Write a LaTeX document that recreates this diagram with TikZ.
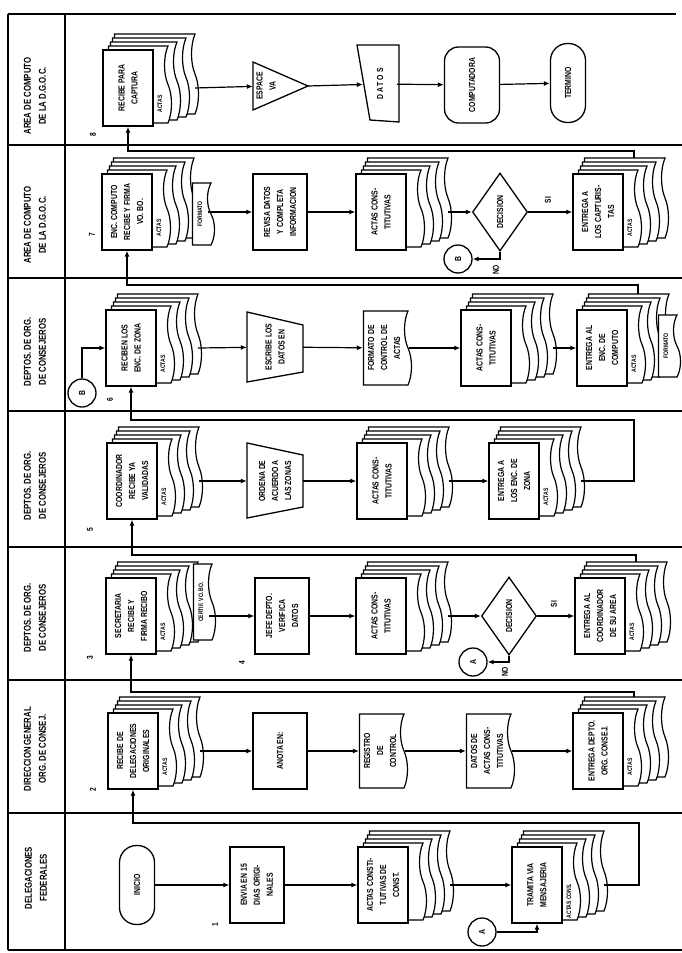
\documentclass[tikz,border=0pt]{standalone}
\usepackage{fontspec}
\setmainfont[FakeStretch=0.78]{Liberation Sans}
\usetikzlibrary{shapes.symbols,shapes.geometric,calc,arrows.meta}

% stack of documents: name, x, y, front text, sheet text
\newcommand{\docstack}[5]{%
  \foreach \k in {4,3,2,1}
    \node[sheet,minimum width={(76+\k)*1pt},minimum height={(56+7*\k)*1pt}]
      at ($(#2,#3)+(3+5.5*\k,-3.5*\k)$) {};
  \node[lbl] at ($(#2,#3)+(32,16)$) {#5};
  \node[front] (#1) at (#2,#3) {#4};
  \coordinate (#1r) at ($(#2,#3)+(67,0)$);
  \coordinate (#1t) at ($(#2,#3)+(36,-54)$);
}

\begin{document}
\begin{tikzpicture}[x=1pt,y=-1pt]
\tikzstyle{txt}=[rotate=90,align=center,inner sep=1pt,font=\bfseries\fontsize{8.8}{13}\selectfont]
\tikzstyle{box}=[txt,draw,line width=1.3pt,fill=white,minimum width=76pt,minimum height=54pt]
\tikzstyle{front}=[box,minimum height=50pt]
\tikzstyle{paper}=[draw,line width=1.2pt,fill=white,tape,tape bend top=none,tape bend height=7pt]
\tikzstyle{sheet}=[paper,rotate=90]
\tikzstyle{doc}=[txt,paper,minimum width=74pt,minimum height=48pt]
\tikzstyle{term}=[txt,draw,line width=1.3pt,rounded corners=17pt,minimum width=79pt,minimum height=35pt]
\tikzstyle{dec}=[txt,draw,line width=1.3pt,fill=white,diamond,minimum width=78pt,minimum height=55pt,inner sep=0pt]
\tikzstyle{con}=[txt,draw,line width=1.3pt,circle,minimum size=28pt,inner sep=0pt]
\tikzstyle{plain}=[txt]
\tikzstyle{shp}=[line width=1.3pt,fill=white]
\tikzstyle{arr}=[line width=1.2pt,-{Latex[length=6pt,width=5pt]}]
\tikzstyle{lane}=[line width=1.5pt]
\tikzstyle{lbl}=[rotate=90,inner sep=0pt,font=\bfseries\fontsize{6.5}{7}\selectfont]
\tikzstyle{num}=[rotate=90,inner sep=0pt,font=\bfseries\fontsize{8.5}{9}\selectfont]
\tikzstyle{hdr}=[rotate=90,align=center,font=\bfseries\fontsize{10}{15}\selectfont]

\useasboundingbox (0,0) rectangle (682,953);

% Lanes
\draw[lane] (8,14) -- (676,14);
\draw[lane] (8,950) -- (682,950);
\draw[lane] (8,14) -- (8,950);
\draw[lane] (65,14) -- (65,950);
\foreach \y in {145,278,411,547,680,813}
  \draw[lane] (8,\y) -- (682,\y);

\node[hdr] (h8) at (35,96) {AREA DE COMPUTO\\DE LA D.G.O.C.};
\node[hdr] (h7) at (35,225) {AREA DE COMPUTO\\DE LA D.G.O.C.};
\node[hdr] (h6) at (35,352) {DEPTOS. DE ORG.\\DE CONSEJEROS};
\node[hdr] (h5) at (35,486) {DEPTOS. DE ORG.\\DE CONSEJEROS};
\node[hdr] (h3) at (35,618) {DEPTOS. DE ORG.\\DE CONSEJEROS};
\node[hdr] (h2) at (35,749) {DIRECCION GENERAL\\ORG. DE CONSEJ.};
\node[hdr] (h1) at (36,878) {DELEGACIONES\\FEDERALES};

% Lane 8
\node[num] (n8) at (93,135) {8};
\docstack{s8}{128}{88}{RECIBE PARA\\CAPTURA}{ACTAS}
\draw[shp] (253,62) -- (308,86) -- (253,110) -- cycle;
\node[plain,minimum width=48pt,minimum height=26pt] (t8) at (266,86) {ESPACE\\VA};
\coordinate (t8a) at (308,86);
\draw[shp] (357,45) -- (399,45) -- (399,122) -- (370,120) -- cycle;
\node[plain,minimum width=77pt,minimum height=34pt] (d8) at (380,84) {D A T O S};
\node[box,rounded corners=14pt,minimum height=55pt] (c8) at (472,85) {COMPUTADORA};
\node[term] (e8) at (568,83) {TERMINO};

% Lane 7
\node[num] (n7) at (92,235) {7};
\docstack{s7}{127}{212}{ENC. COMPUTO\\RECIBE Y FIRMA\\VO. BO.}{ACTAS}
\node[doc,minimum width=62pt,minimum height=22pt,font=\bfseries\fontsize{6.5}{7}\selectfont] (f7) at (200,214) {FORMATO};
\node[box] (r7) at (280,212) {REVISA DATOS\\Y COMPLETA\\INFORMACION};
\docstack{a7}{381}{212}{ACTAS CONS-\\TITUTIVAS}{}
\node[dec] (dc7) at (500,212) {DECISION};
\docstack{s7b}{598}{212}{ENTREGA A\\LOS CAPTURIS-\\TAS}{ACTAS}
\node[con] (cB7) at (458,259) {B};
\node[num] (si7) at (548,200) {SI};
\node[num] (no7) at (496,270) {NO};

% Lane 6
\node[num] (n6) at (110,400) {6};
\node[con] (cB6) at (82,393) {B};
\docstack{s6}{131}{348}{RECIBEN LOS\\ENC. DE ZONA}{ACTAS}
\draw[shp] (247,312) -- (303,325) -- (303,372) -- (247,382) -- cycle;
\node[plain,minimum width=70pt,minimum height=56pt] (m6) at (275,347) {ESCRIBE LOS\\DATOS EN};
\node[doc] (fm6) at (384,348) {FORMATO DE\\CONTROL DE\\ACTAS};
\docstack{a6}{486}{348}{ACTAS CONS-\\TITUTIVAS}{}
\docstack{s6b}{602}{348}{ENTREGA AL\\ENC. DE\\COMPUTO}{ACTAS}
\node[doc,minimum width=62pt,minimum height=22pt,font=\bfseries\fontsize{6.5}{7}\selectfont] (f6) at (666,346) {FORMATO};

% Lane 5
\node[num] (n5) at (90,530) {5};
\docstack{s5}{132}{481}{COORDINADOR\\RECIBE YA\\VALIDADAS}{ACTAS}
\draw[shp] (247,443) -- (303,455) -- (303,507) -- (247,518) -- cycle;
\node[plain,minimum width=75pt,minimum height=56pt] (m5) at (275,481) {ORDENA DE\\ACUERDO A\\LAS ZONAS};
\docstack{a5}{382}{481}{ACTAS CONS-\\TITUTIVAS}{}
\docstack{s5b}{514}{481}{ENTREGA A\\LOS ENC. DE\\ZONA}{ACTAS}

% Lane 3
\node[num] (n3) at (90,658) {3};
\node[num] (n4) at (242,663) {4};
\docstack{s3}{131}{616}{SECRETARIA\\RECIBE Y\\FIRMA RECIBO}{ACTAS}
\node[doc,minimum width=76pt,minimum height=22pt,font=\bfseries\fontsize{6.5}{7}\selectfont] (x3) at (201,602) {CERTIF. VO. BO.};
\node[box] (r3) at (282,616) {JEFE DEPTO.\\VERIFICA\\DATOS};
\docstack{a3}{381}{616}{ACTAS CONS-\\TITUTIVAS}{}
\node[dec] (dc3) at (509,616) {DECISION};
\docstack{s3b}{600}{616}{ENTREGA AL\\COORDINADOR\\DE SU AREA}{ACTAS}
\node[con] (cA3) at (473,662) {A};
\node[num] (si3) at (554,604) {SI};
\node[num] (no3) at (505,672) {NO};

% Lane 2
\node[num] (n2) at (93,790) {2};
\docstack{s2}{133}{751}{RECIBE DE\\DELEGACIONES\\ORIGINALES}{ACTAS}
\node[box] (r2) at (280,751) {ANOTA EN:};
\node[doc] (dreg2) at (380,751) {REGISTRO\\DE\\CONTROL};
\node[doc] (dat2) at (487,751) {DATOS DE\\ACTAS CONS-\\TITUTIVAS};
\docstack{s2b}{598}{751}{ENTREGA DEPTO.\\ORG. CONSEJ.}{ACTAS}

% Lane 1
\node[num] (n1) at (215,925) {1};
\node[term] (i1) at (137,885) {INICIO};
\node[box] (r1) at (257,885) {ENVIA EN 15\\DIAS ORIGI-\\NALES};
\docstack{a1}{383}{885}{ACTAS CONSTI-\\TUTIVAS DE\\CONST.}{}
\docstack{s1b}{537}{885}{TRAMITA VIA\\MENSAJERIA}{ACTAS CONS.}
\node[con] (cA1) at (482,932) {A};

% Connectors
\draw[arr] (s8r) -- (t8);
\draw[arr] (t8a) -- (d8);
\draw[arr] (d8) -- (c8);
\draw[arr] (c8) -- (e8);

\draw[arr] (f7.south |- r7) -- (r7);
\draw[arr] (r7) -- (a7);
\draw[arr] (a7r) -- (dc7);
\draw[arr] (dc7) -- (s7b);
\draw[arr] (dc7) |- (cB7);
\draw[arr] (s7bt) -- ++(0,-7) -| (s8);

\draw[arr] (cB6) |- (s6);
\draw[arr] (s6r) -- (m6);
\draw[arr] (m6) -- (fm6);
\draw[arr] (fm6) -- (a6);
\draw[arr] (a6r) -- (s6b);
\draw[arr] (s6bt) -- ++(0,-9) -| (s7);

\draw[arr] (s5r) -- (m5);
\draw[arr] (m5) -- (a5);
\draw[arr] (a5r) -- (s5b);
\draw[arr] (s5br) -- ++(53,0) -- ++(0,-61) -| (s6);

\draw[arr] (x3.south |- r3) -- (r3);
\draw[arr] (r3) -- (a3);
\draw[arr] (a3r) -- (dc3);
\draw[arr] (dc3) -- (s3b);
\draw[arr] (dc3) |- (cA3);
\draw[arr] (s3bt) -- ++(0,-7) -| (s5);

\draw[arr] (s2r) -- (r2);
\draw[arr] (r2) -- (dreg2);
\draw[arr] (dreg2) -- (dat2);
\draw[arr] (dat2) -- (s2b);
\draw[arr] (s2bt) -- ++(0,-5) -| (s3);

\draw[arr] (i1) -- (r1);
\draw[arr] (r1) -- (a1);
\draw[arr] (a1r) -- (s1b);
\draw[arr] (cA1) -| (s1b);
\draw[arr] (s1br) -- ++(35,0) -- ++(0,-62) -| (s2);
\end{tikzpicture}
\end{document}
